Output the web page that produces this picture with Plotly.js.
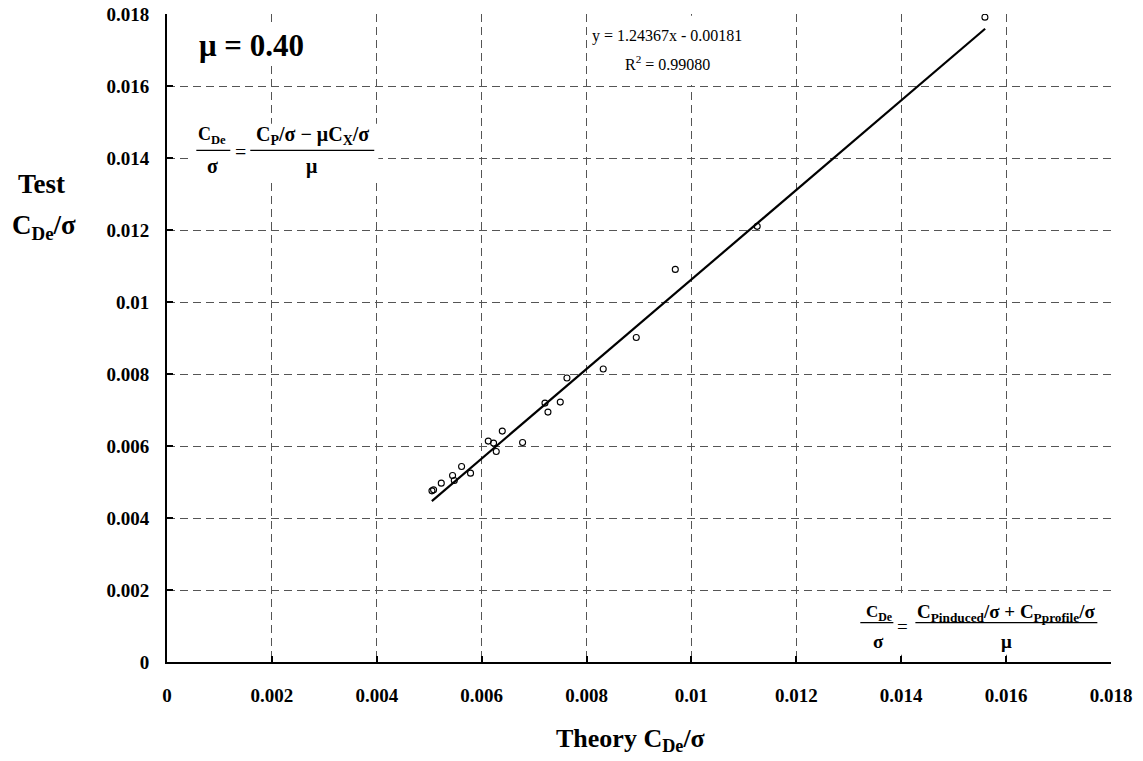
<!DOCTYPE html>
<html>
<head>
<meta charset="utf-8">
<script src="https://cdn.plot.ly/plotly-3.0.1.min.js"></script>
<style>html,body{margin:0;padding:0;background:#fff;}#chart{width:1143px;height:761px;}</style>
</head>
<body>
<div id="chart"></div>
<script>
// Measured points: Theory C_De/sigma (x) vs Test C_De/sigma (y), mu = 0.40
const theoryCDe = [0.005052, 0.005083, 0.005230, 0.005445, 0.005478, 0.005617, 0.005788,
  0.006126, 0.006227, 0.006278, 0.006393, 0.006780, 0.007207, 0.007264, 0.007499,
  0.007626, 0.008318, 0.008948, 0.009692, 0.011254, 0.015596];
const testCDe = [0.004754, 0.004782, 0.004968, 0.005179, 0.005040, 0.005430, 0.005246,
  0.006136, 0.006080, 0.005847, 0.006414, 0.006097, 0.007192, 0.006942, 0.007220,
  0.007887, 0.008137, 0.009015, 0.010906, 0.012102, 0.017912];

// Linear trend line (as drawn), end points
const trendX = [0.00505, 0.01560];
const trendY = [0.00447, 0.01759];

const tickVals = [0, 0.002, 0.004, 0.006, 0.008, 0.01, 0.012, 0.014, 0.016, 0.018];
const tickText = ["0", "0.002", "0.004", "0.006", "0.008", "0.01", "0.012", "0.014", "0.016", "0.018"];

const serif = "'Liberation Serif', 'Times New Roman', serif";

const traces = [
  {
    x: trendX, y: trendY, type: 'scatter', mode: 'lines',
    line: {color: '#000', width: 2.2}, hoverinfo: 'skip', showlegend: false
  },
  {
    x: theoryCDe, y: testCDe, type: 'scatter', mode: 'markers',
    marker: {symbol: 'circle-open', size: 6, color: '#000', line: {width: 1.1, color: '#000'}},
    showlegend: false
  }
];

const axisCommon = {
  range: [0, 0.018],
  tickmode: 'array',
  tickvals: tickVals,
  ticktext: tickText,
  showgrid: true,
  gridcolor: '#555',
  gridwidth: 1,
  griddash: '8px,5px',
  zeroline: false,
  showline: true,
  linecolor: '#000',
  linewidth: 2,
  ticks: 'inside',
  ticklen: 6,
  tickwidth: 2,
  tickcolor: '#000',
  tickfont: {family: serif, size: 19, color: '#000', weight: 'bold'}
};

const f1 = 20; // formula font size (upper-left)
const f2 = 19; // formula font size (lower-right)
const bold = {family: serif, color: '#000', weight: 'bold'};

const annotations = [
  {xref: 'x', yref: 'y', x: 0.00057, y: 0.01712, xanchor: 'left', yanchor: 'middle',
   text: '<b>μ = 0.40</b>', showarrow: false, bgcolor: '#fff',
   font: Object.assign({}, bold, {size: 31})},
  {xref: 'x', yref: 'y', x: 0.00954, y: 0.01740, xanchor: 'center', yanchor: 'middle',
   text: 'y = 1.24367x - 0.00181', showarrow: false,
   font: {family: serif, size: 16, color: '#000'}},
  {xref: 'x', yref: 'y', x: 0.00954, y: 0.01665, xanchor: 'center', yanchor: 'middle',
   text: 'R<sup>2</sup> = 0.99080', showarrow: false,
   font: {family: serif, size: 16, color: '#000'}},
  // formula 1 (upper left)
  {xref: 'x', yref: 'y', x: 0.000858, y: 0.01462, text: '<b>C<sub>De</sub></b>', showarrow: false,
   font: Object.assign({}, bold, {size: f1 - 2}), yanchor: 'middle'},
  {xref: 'x', yref: 'y', x: 0.000858, y: 0.01377, text: '<b>σ</b>', showarrow: false,
   font: Object.assign({}, bold, {size: f1}), yanchor: 'middle'},
  {xref: 'x', yref: 'y', x: 0.001397, y: 0.01418, text: '=', showarrow: false,
   font: {family: serif, size: f1, color: '#000'}, yanchor: 'middle'},
  {xref: 'x', yref: 'y', x: 0.002765, y: 0.01462,
   text: '<b>C<sub>P</sub>/σ − μC<sub>X</sub>/σ</b>', showarrow: false,
   font: Object.assign({}, bold, {size: f1}), yanchor: 'middle'},
  {xref: 'x', yref: 'y', x: 0.002765, y: 0.01377, text: '<b>μ</b>', showarrow: false,
   font: Object.assign({}, bold, {size: f1}), yanchor: 'middle'},
  // formula 2 (lower right)
  {xref: 'x', yref: 'y', x: 0.013567, y: 0.001370, text: '<b>C<sub>De</sub></b>', showarrow: false,
   font: Object.assign({}, bold, {size: f2 - 2}), yanchor: 'middle'},
  {xref: 'x', yref: 'y', x: 0.013567, y: 0.000564, text: '<b>σ</b>', showarrow: false,
   font: Object.assign({}, bold, {size: f2}), yanchor: 'middle'},
  {xref: 'x', yref: 'y', x: 0.01403, y: 0.00100, text: '=', showarrow: false,
   font: {family: serif, size: f2, color: '#000'}, yanchor: 'middle'},
  {xref: 'x', yref: 'y', x: 0.01600, y: 0.001370,
   text: '<b>C<sub>Pinduced</sub>/σ + C<sub>Pprofile</sub>/σ</b>', showarrow: false,
   font: Object.assign({}, bold, {size: f2}), yanchor: 'middle'},
  {xref: 'x', yref: 'y', x: 0.01600, y: 0.000564, text: '<b>μ</b>', showarrow: false,
   font: Object.assign({}, bold, {size: f2}), yanchor: 'middle'},
  // axis titles
  {xref: 'paper', yref: 'paper', x: -0.1327, y: 0.737, text: '<b>Test</b>', showarrow: false,
   font: Object.assign({}, bold, {size: 27}), xanchor: 'center', yanchor: 'middle'},
  {xref: 'paper', yref: 'paper', x: -0.1300, y: 0.672, text: '<b>C<sub>De</sub>/σ</b>', showarrow: false,
   font: Object.assign({}, bold, {size: 27}), xanchor: 'center', yanchor: 'middle'},
  {xref: 'paper', yref: 'paper', x: 0.4915, y: -0.120, text: '<b>Theory C<sub>De</sub>/σ</b>', showarrow: false,
   font: Object.assign({}, bold, {size: 26}), xanchor: 'center', yanchor: 'middle'}
];

const shapes = [
  // white backing boxes behind text blocks
  {type: 'rect', xref: 'x', yref: 'y', x0: 0.00810, x1: 0.01170, y0: 0.01603, y1: 0.01795,
   fillcolor: '#fff', line: {width: 0}, layer: 'between'},
  {type: 'rect', xref: 'x', yref: 'y', x0: 0.00041, x1: 0.00403, y0: 0.01340, y1: 0.01495,
   fillcolor: '#fff', line: {width: 0}, layer: 'between'},
  {type: 'rect', xref: 'x', yref: 'y', x0: 0.01320, x1: 0.01785, y0: 0.00020, y1: 0.00192,
   fillcolor: '#fff', line: {width: 0}, layer: 'between'},
  // fraction bars
  {type: 'line', xref: 'x', yref: 'y', x0: 0.000559, x1: 0.001207, y0: 0.01421, y1: 0.01421,
   line: {color: '#000', width: 1.3}},
  {type: 'line', xref: 'x', yref: 'y', x0: 0.001588, x1: 0.003952, y0: 0.01421, y1: 0.01421,
   line: {color: '#000', width: 1.3}},
  {type: 'line', xref: 'x', yref: 'y', x0: 0.01322, x1: 0.01385, y0: 0.001093, y1: 0.001093,
   line: {color: '#000', width: 1.3}},
  {type: 'line', xref: 'x', yref: 'y', x0: 0.01427, x1: 0.01774, y0: 0.001093, y1: 0.001093,
   line: {color: '#000', width: 1.3}}
];

const layout = {
  width: 1143, height: 761,
  margin: {l: 167, r: 32, t: 14, b: 99},
  paper_bgcolor: '#fff', plot_bgcolor: '#fff',
  showlegend: false,
  font: {family: serif, color: '#000'},
  xaxis: Object.assign({}, axisCommon, {ticklabelstandoff: 15}),
  yaxis: Object.assign({}, axisCommon, {ticklabelstandoff: 12}),
  annotations: annotations,
  shapes: shapes
};

Plotly.newPlot('chart', traces, layout, {displayModeBar: false, staticPlot: true});
</script>
</body>
</html>
